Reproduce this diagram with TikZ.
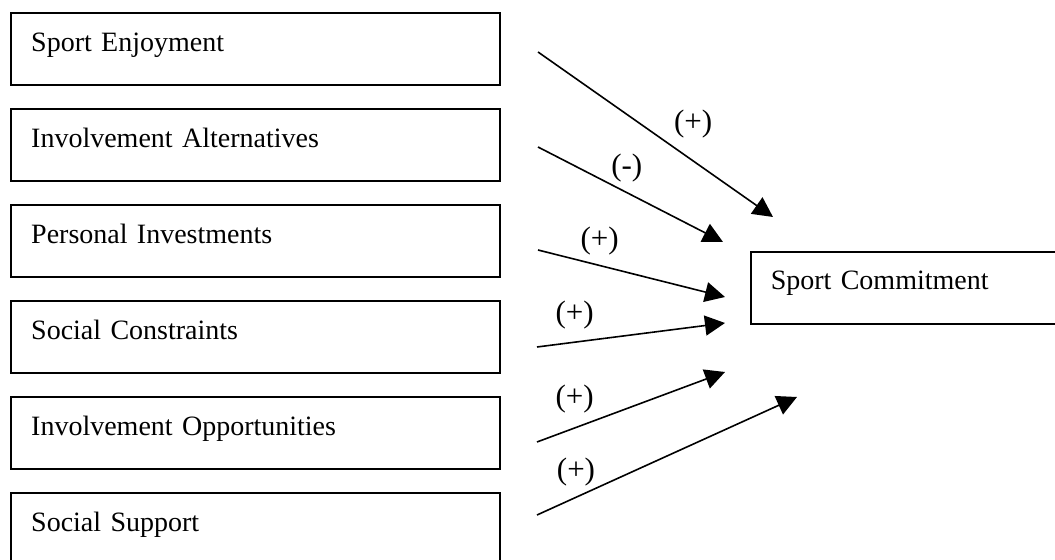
\documentclass[tikz,border=0pt]{standalone}
\usepackage{fontspec}
\setmainfont{Liberation Serif}
\usetikzlibrary{matrix,arrows.meta}

\tikzset{
	factor/.style={draw, line width=0.8pt, align=left, text width=224.5pt,
		inner xsep=10pt, inner ysep=0pt, text height=19pt, text depth=17pt,
		font=\fontsize{14}{17}\selectfont},
	link/.style={-{Triangle[length=10pt,width=10pt]}, line width=0.8pt},
	sign/.style={font=\fontsize{15.5}{18}\selectfont, inner sep=1pt}
}

\begin{document}
\begin{tikzpicture}[x=0.5pt, y=-0.5pt]
\path[use as bounding box, clip] (0,0) rectangle (1055,560);
\matrix (m) [matrix of nodes, row sep=11.2pt, nodes={factor}, inner sep=0pt, anchor=north west] at (10,12)
{
	Sport Enjoyment \\
	Involvement Alternatives \\
	Personal Investments \\
	Social Constraints \\
	Involvement Opportunities \\
	Social Support \\
};
\node[factor, anchor=north west] (com) at (750,251) {Sport Commitment};

% loose ends of the arrows
\coordinate (a1) at (538,52);  \coordinate (b1) at (773,217);
\coordinate (a2) at (538,147); \coordinate (b2) at (723,242);
\coordinate (a3) at (538,250); \coordinate (b3) at (725,297);
\coordinate (a4) at (537,347); \coordinate (b4) at (725,323);
\coordinate (a5) at (537,442); \coordinate (b5) at (725,372);
\coordinate (a6) at (537,515); \coordinate (b6) at (797,397);

\path[link]
(a1) edge node [sign, pos=.66, above=10pt] {(+)} (b1)
(a2) edge node [sign, pos=.48, above=4pt] {(-)} (b2)
(a3) edge node [sign, pos=.33, above=4pt] {(+)} (b3)
(a4) edge node [sign, pos=.2, above=5pt] {(+)} (b4)
(a5) edge node [sign, pos=.2, above=6pt] {(+)} (b5)
(a6) edge node [sign, pos=.15, above=4pt] {(+)} (b6);
\end{tikzpicture}
\end{document}
